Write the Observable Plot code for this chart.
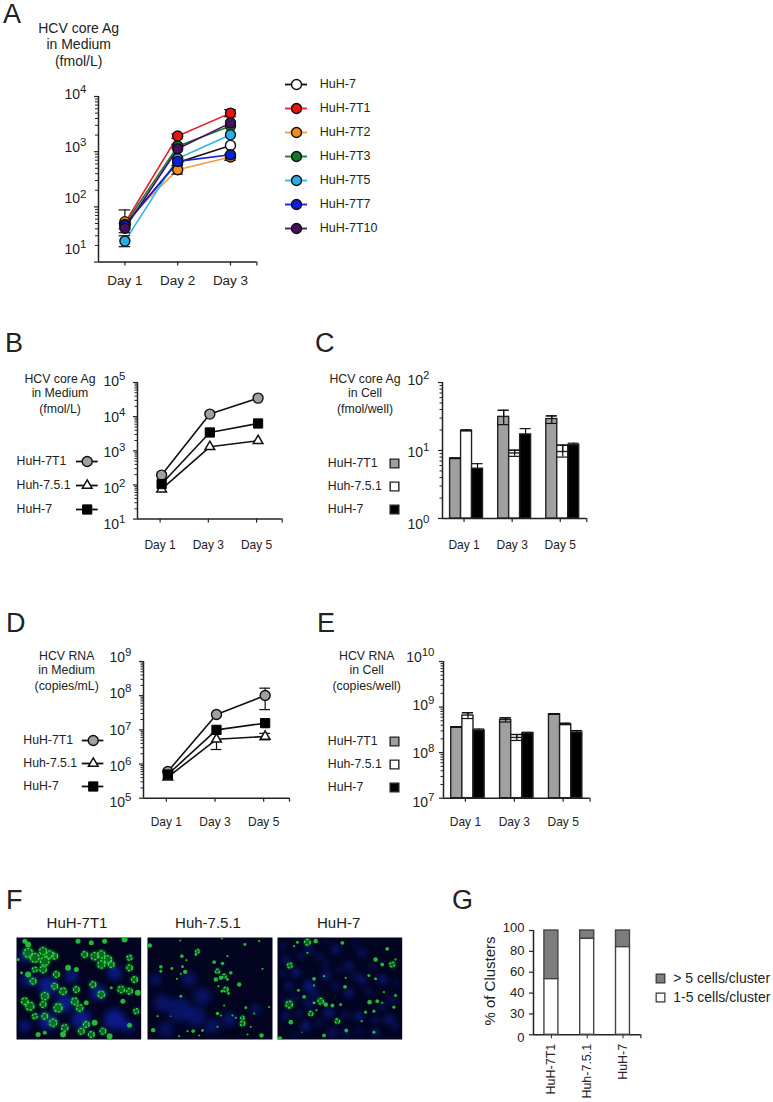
<!DOCTYPE html>
<html>
<head>
<meta charset="utf-8">
<script src="https://cdn.jsdelivr.net/npm/d3@7"></script>
<script src="https://cdn.jsdelivr.net/npm/@observablehq/plot@0.6"></script>
<style>
  html, body { margin: 0; padding: 0; background: #fff; }
  #page { position: relative; width: 773px; height: 1102px; overflow: hidden; font-family: "Liberation Sans", Arial, sans-serif; color: #222; }
  #page svg { position: absolute; overflow: visible; max-width: none; }
  .t { position: absolute; white-space: nowrap; }
  .c { transform: translateX(-50%); text-align: center; }
</style>
</head>
<body>
<div id="page"></div>
<script>
// ---------- Panel A data ----------
const seriesA = ["HuH-7","HuH-7T1","HuH-7T2","HuH-7T3","HuH-7T5","HuH-7T7","HuH-7T10"];
const fillA = ["#ffffff","#ee1111","#f58a1f","#0f7a24","#27aee6","#0a1fe0","#45105f"];
const lineA = ["#111111","#e81c24","#f59a3a","#1a7a30","#35b4e8","#1020d8","#45105f"];
const daysA = ["Day 1","Day 2","Day 3"];
const valuesA = [
  [48,640,1300],[51,1920,5000],[54,470,800],[48,1260,2910],[24,755,2020],[46,667,880],[41,1130,3330]
];
const errSeriesA = [2,6,4,2,3,1,2,1];
const errDayA    = [0,0,0,1,1,1,2,2];
const errLowA    = [40,34,19,393,1150,1750,700,4300];
const errHighA   = [88,50,30,560,1360,2100,900,5800];
const ticksA = [10,100,1000,10000];
const exponentsA = ["1","2","3","4"];
const labelNudgeA = [-13,-8,-4.5,-2];

// ---------- Panels B, D data ----------
const seriesLine = ["HuH-7T1","Huh-7.5.1","HuH-7"];
const days135 = ["Day 1","Day 3","Day 5"];
const valuesB = [[194,11880,34900],[75.6,1310,1960],[106,3440,6300]];
const ticksB = [10,100,1000,10000,100000];
const exponentsB = ["1","2","3","4","5"];
const labelNudgeB = [5,3.5,2,1,-1];

const valuesD = [[604000,2.8e7,1.01e8],[412000,5.3e6,6.4e6],[494000,1e7,1.57e7]];
const errSeriesD = [0,1,1];
const errDayD    = [2,1,2];
const errLowD    = [3.9e7,2.66e6,5.1e6];
const errHighD   = [1.66e8,7.8e6,7.9e6];
const ticksD = [1e5,1e6,1e7,1e8,1e9];
const exponentsD = ["5","6","7","8","9"];
const labelNudgeD = [4,2,1,-2,-4];

// ---------- Panels C, E data ----------
const valuesC = [[7.6,31.2,29],[19.4,9.05,9.5],[5.4,17.2,12]];
const lowC  = [[7.6,24,25],[19.4,8.2,8],[5.4,17.2,12]];
const highC = [[7.75,39,32.3],[20,10.1,12],[6.4,21,12.8]];
const ticksC = [1,10,100];
const exponentsC = ["0","1","2"];
const labelNudgeC = [5.7,2,-2];

const valuesE = [[3.6e8,5.25e8,6.9e8],[6.5e8,2.1e8,4.1e8],[3.06e8,2.67e8,2.77e8]];
const lowE  = [[3.6e8,4.7e8,6.9e8],[5.6e8,1.85e8,4.1e8],[3.06e8,2.67e8,2.77e8]];
const highE = [[3.7e8,5.8e8,7.1e8],[7.5e8,2.5e8,4.4e8],[3.3e8,2.8e8,3.05e8]];
const ticksE = [1e7,1e8,1e9,1e10];
const exponentsE = ["7","8","9","10"];
const labelNudgeE = [4,0.5,-1.5,-4];

// ---------- Panel G data ----------
const linesG = ["HuH-7T1","Huh-7.5.1","HuH-7"];
const smallClusters = [53.3,92,84];
const totalClusters = [100,100,100];
const legendG = ["> 5 cells/cluster","1-5 cells/cluster"];
const ticksG = [0,20,40,60,80,100];
const tickLabelsG = ["0","30","40","60","80","100"];
const labelNudgeG = [3,0,0,0,-1,-2.5];

// ---------- Panel F, estimated spots: [x, y, radius] in image units ----------
const imageTitles = ["HuH-7T1","Huh-7.5.1","HuH-7"];
const blue1 = [[100,150,30],[150,200,28],[200,250,30],[100,255,28],[40,130,20],[300,250,32],[300,110,22],[30,60,18],[250,170,24],[170,120,20],[340,270,18],[30,270,16]];
const green1 = [[40,50,12],[60,65,12],[85,45,10],[105,55,10],[120,60,8],[90,75,12],[40,25,6],[30,15,5],[210,55,8],[240,60,10],[260,55,10],[280,70,10],[260,85,10],[290,85,8],[345,65,7],[345,95,8],[330,10,6],[270,15,5],[190,15,5],[230,20,5],[60,100,7],[85,100,9],[40,115,6],[125,115,8],[160,95,6],[185,100,5],[55,135,8],[20,110,3],[120,150,8],[145,165,9],[185,160,8],[235,145,8],[260,175,9],[290,155,3],[320,160,9],[345,165,8],[360,130,8],[370,170,6],[365,225,7],[345,267,5],[30,195,9],[45,210,11],[90,180,10],[85,205,8],[130,215,11],[180,195,9],[195,215,9],[215,200,5],[325,195,5],[60,240,7],[90,240,8],[115,260,10],[150,275,9],[70,295,5],[90,290,4],[215,265,8],[240,260,6],[200,285,8],[230,295,8],[265,285,8],[285,300,6],[145,295,6],[10,70,3]];
const blue2 = [[100,220,36],[50,200,26],[150,240,30],[60,280,22],[200,270,22],[30,130,18],[250,250,22],[130,130,22],[170,180,26],[330,220,16]];
const green2 = [[12,28,6],[103,13,3],[228,7,3],[297,25,4],[340,15,3],[155,45,7],[150,55,4],[108,60,5],[122,72,3],[45,92,5],[45,105,4],[78,97,4],[110,92,4],[118,107,6],[105,113,3],[93,128,3],[205,78,5],[230,82,5],[245,60,3],[215,105,8],[235,120,8],[255,110,5],[210,130,6],[225,125,6],[245,130,4],[240,160,9],[228,165,4],[248,172,4],[218,150,3],[350,98,3],[280,145,6],[105,180,4],[235,208,3],[215,232,5],[225,238,3],[260,238,3],[270,245,3],[290,245,7],[290,262,9],[300,215,4],[325,232,3],[315,272,3],[370,213,3],[35,240,3],[22,282,6],[142,285,5],[170,283,4],[100,300,3],[160,298,3],[215,272,3],[125,285,3],[347,298,6],[305,295,3],[75,240,2]];
const blue3 = [[100,150,16],[150,120,12],[220,90,11],[60,110,12],[30,70,10],[100,40,10],[180,40,11],[260,50,10],[320,130,12],[260,130,11],[220,170,12],[100,200,11],[160,230,13],[250,240,12],[90,270,13],[40,150,10],[340,250,12],[350,190,9],[170,290,11],[300,290,10],[30,240,10],[210,290,9],[130,60,8],[150,85,8],[75,60,8],[20,110,8],[120,175,9],[60,185,8],[180,150,8],[240,120,8],[280,165,8],[320,210,8],[30,190,7],[70,230,8],[130,260,8],[210,235,8],[300,250,8],[360,140,7],[360,270,8],[60,295,7],[250,285,7],[190,100,7],[290,90,7],[240,20,7],[150,15,6],[20,30,7]];
const green3 = [[95,18,10],[120,15,6],[65,18,4],[55,30,3],[200,20,5],[95,50,3],[42,88,9],[300,70,6],[320,85,5],[350,85,9],[335,38,5],[360,70,3],[115,128,5],[145,120,3],[115,148,3],[208,152,5],[210,125,3],[280,118,4],[300,128,4],[68,162,4],[85,182,5],[40,205,12],[135,195,10],[150,205,6],[170,208,5],[115,200,4],[195,205,4],[105,232,8],[122,222,3],[282,198,6],[305,195,5],[325,168,3],[360,178,4],[355,213,4],[270,228,4],[295,225,4],[185,255,8],[45,258,6],[258,255,3],[212,283,5],[145,298,5],[12,307,6],[295,288,4],[78,288,2],[320,200,3]];

// ---------- Layout helpers ----------
const page = document.getElementById("page");
const FONT = "Liberation Sans, Arial, sans-serif";
const INK = "#222";
const AXIS = "#222";

function place(svg, left, top) {
  svg.style.left = left + "px";
  svg.style.top = top + "px";
  page.appendChild(svg);
}
function label(text, x, y, size, cls) {
  const d = document.createElement("div");
  d.className = "t " + (cls || "");
  d.textContent = text;
  d.style.cssText += `left:${x}px;top:${y - size * 0.6}px;font-size:${size}px;line-height:${size * 1.2}px;`;
  page.appendChild(d);
}
function block(lines, cx, ys, size) {
  lines.forEach((s, i) => label(s, cx, ys[i], size, "c"));
}
function minorLog(ticks) {
  const out = [];
  ticks.slice(0, -1).forEach(t => { for (let k = 2; k < 10; k++) out.push(t * k); });
  return out;
}
function frameOptions(c, marks) {
  const mL = 50, mR = 10, mT = 10, mB = 60;
  return {
    width: c.len + mL + mR, height: c.h + mT + mB,
    marginLeft: mL, marginRight: mR, marginTop: mT, marginBottom: mB,
    style: { background: "transparent", fontFamily: FONT, color: INK, overflow: "visible" },
    x: { domain: [-0.5, 2.5] },
    y: c.linear ? { domain: [c.ticks[0], c.ticks[c.ticks.length - 1]] }
                : { type: "log", domain: [c.ticks[0], c.ticks[c.ticks.length - 1]] },
    marks
  };
}
function axes(c) {
  const marks = [];
  if (!c.linear) marks.push(Plot.axisY(minorLog(c.ticks), { tickSize: c.minorSize || 2.5, fill: "none", label: null, stroke: AXIS }));
  marks.push(Plot.axisY(c.ticks, { tickSize: 4, fill: "none", label: null, stroke: AXIS, strokeWidth: 1.2 }));
  c.ticks.forEach((t, i) => {
    if (c.linear) {
      marks.push(Plot.text([t], {
        x: () => -0.5, y: d => d, text: () => c.tickLabels[i], textAnchor: "end",
        dx: -c.labelGap, dy: c.nudge[i], fontSize: c.tickFont || 14, fill: INK
      }));
    } else {
      const expWidth = c.exponents[i].length * 6.4;
      marks.push(Plot.text([t], {
        x: () => -0.5, y: d => d, text: () => "10", textAnchor: "end",
        dx: -c.labelGap - expWidth, dy: c.nudge[i], fontSize: 14, fill: INK
      }));
      marks.push(Plot.text([t], {
        x: () => -0.5, y: d => d, text: () => c.exponents[i], textAnchor: "end",
        dx: -c.labelGap, dy: c.nudge[i] - 5, fontSize: 11.5, fill: INK
      }));
    }
  });
  marks.push(Plot.ruleX([-0.5], { stroke: AXIS, strokeWidth: 1.5 }));
  marks.push(Plot.ruleY([c.ticks[0]], { stroke: AXIS, strokeWidth: 1.5 }));
  marks.push(Plot.axisX([2.5], { tickSize: 4, fill: "none", label: null, stroke: AXIS, strokeWidth: 1.2 }));
  return marks;
}
function xDays(c) {
  return Plot.axisX([0, 1, 2], {
    tickSize: 4, tickPadding: c.xPad, label: null, stroke: AXIS, strokeWidth: 1.2, fill: INK,
    fontSize: c.xFont, dx: c.xDx || 0, tickFormat: i => c.days[i]
  });
}
function errMarks(rows, cap) {
  return [
    Plot.ruleX(rows, { x: "x", y1: "lo", y2: "hi", stroke: "#111", strokeWidth: 1.2 }),
    Plot.ruleY(rows, { y: "lo", x1: d => d.x - cap, x2: d => d.x + cap, stroke: "#111", strokeWidth: 1.2 }),
    Plot.ruleY(rows, { y: "hi", x1: d => d.x - cap, x2: d => d.x + cap, stroke: "#111", strokeWidth: 1.2 })
  ];
}

// ---------- Line panels ----------
function seriesRows(names, values) {
  return names.flatMap((s, si) => values[si].map((v, i) => ({ s: si, x: i, v })));
}
function drawLinePanel(c) {
  const rows = seriesRows(c.names, c.values);
  const errs = (c.errSeries || []).map((s, i) => ({ x: c.errDay[i], lo: c.errLow[i], hi: c.errHigh[i] }));
  const marks = [
    ...axes(c),
    xDays(c),
    ...c.names.map((n, si) => Plot.line(rows.filter(d => d.s === si), {
      x: "x", y: "v", stroke: c.lineColor(si), strokeWidth: c.lineWidth || 1.6
    })),
    ...errMarks(errs, 0.11),
    ...c.names.map((n, si) => Plot.dot(rows.filter(d => d.s === si), {
      x: "x", y: "v", ...c.dot(si)
    }))
  ];
  place(Plot.plot(frameOptions(c, marks)), c.left - 50, c.top - 10);
}

// ---------- Bar panels ----------
const barFill = ["#a0a0a0", "#ffffff", "#000000"];
const barHalf = 0.114;
function drawBarPanel(c) {
  const rows = seriesRows(seriesLine, c.values).map(d => ({
    ...d,
    cx: d.x + (d.s - 1) * barHalf * 2,
    lo: c.low[d.s][d.x], hi: c.high[d.s][d.x]
  }));
  const errs = rows.map(d => ({ x: d.cx, lo: d.lo, hi: d.hi }));
  const marks = [
    ...axes(c),
    xDays(c),
    ...errMarks(errs, barHalf),
    ...[0, 1, 2].map(si => Plot.rect(rows.filter(d => d.s === si), {
      x1: d => d.cx - barHalf, x2: d => d.cx + barHalf,
      y1: () => c.ticks[0], y2: "v",
      fill: barFill[si], stroke: "#222", strokeWidth: 1.4
    })),
    ...errMarks(errs.filter((d, i) => rows[i].s !== 2), barHalf)
  ];
  place(Plot.plot(frameOptions(c, marks)), c.left - 50, c.top - 10);
}

// ---------- Legends ----------
function drawLegend(o) {
  const height = o.y2 - o.y1 + 30, width = 773;
  const opts = {
    width, height, margin: 0, axis: null,
    style: { background: "transparent", fontFamily: FONT, color: INK, overflow: "visible" },
    x: { domain: [0, width], range: [0, width] },
    y: { type: "point", domain: o.names, range: [15, height - 15], padding: 0 },
    marks: [
      ...(o.lineFrom !== undefined ? o.names.map((n, i) => Plot.ruleY([n], {
        y: d => d, x1: () => o.lineFrom, x2: () => o.lineTo,
        stroke: o.lineColor ? o.lineColor(i) : "#111", strokeWidth: o.lineWidth || 1.8
      })) : []),
      ...o.names.map((n, i) => Plot.dot([n], { y: d => d, x: () => o.markX, ...o.dot(i) })),
      Plot.text(o.names, { y: d => d, x: () => o.textX, text: d => d, textAnchor: "start", fontSize: o.font, fill: INK })
    ]
  };
  place(Plot.plot(opts), 0, o.y1 - 15);
}

// ---------- A ----------
label("A", 3, 14.5, 27);
block(["HCV core Ag", "in Medium", "(fmol/L)"], 78.7, [28, 44, 61], 14);
drawLinePanel({
  left: 98.3, top: 95.7, len: 158.4, h: 165.6, ticks: ticksA, exponents: exponentsA, nudge: labelNudgeA,
  labelGap: 12, days: daysA, xPad: 9.3, xFont: 13.5, names: seriesA, values: valuesA,
  errSeries: errSeriesA, errDay: errDayA, errLow: errLowA, errHigh: errHighA,
  lineColor: si => lineA[si], minorSize: 3,
  dot: si => ({ r: 5, fill: fillA[si], stroke: "#111", strokeWidth: 1.4 })
});
drawLegend({
  names: seriesA, y1: 83.3, y2: 230, lineFrom: 285, lineTo: 307, markX: 296, textX: 319.3, font: 12.5,
  lineColor: i => lineA[i], dot: i => ({ r: 5, fill: fillA[i], stroke: "#111", strokeWidth: 1.4 })
});

// ---------- shared styles for B/D ----------
const lineDot = [
  { symbol: "circle", r: 5, fill: "#a0a0a0", stroke: "#111", strokeWidth: 1.4 },
  { symbol: "triangle", r: 3.6, fill: "#fff", stroke: "#111", strokeWidth: 1.5 },
  { symbol: "square", r: 5.2, fill: "#000", stroke: "#000", strokeWidth: 1 }
];
const legendSquare = i => ({ symbol: "square", r: 4.9, fill: barFill[i], stroke: "#222", strokeWidth: 1.4 });

// ---------- B ----------
label("B", 5, 343, 27);
block(["HCV core Ag", "in Medium", "(fmol/L)"], 60, [379, 393.5, 409], 12.3);
drawLinePanel({
  left: 137, top: 381.7, len: 144.7, h: 136.6, ticks: ticksB, exponents: exponentsB, nudge: labelNudgeB,
  labelGap: 12, days: days135, xPad: 17.5, xFont: 12, xDx: -1.5, names: seriesLine, values: valuesB,
  lineColor: () => "#111", dot: si => lineDot[si]
});
drawLegend({ names: seriesLine, y1: 461, y2: 509, lineFrom: 76, lineTo: 97.7, markX: 86.7, textX: 16, font: 12.3, dot: i => lineDot[i] });

// ---------- C ----------
label("C", 315, 343, 27);
block(["HCV core Ag", "in Cell", "(fmol/well)"], 365, [379, 393.5, 409], 12.3);
drawBarPanel({
  left: 441.7, top: 382.3, len: 144.3, h: 136, ticks: ticksC, exponents: exponentsC, nudge: labelNudgeC,
  labelGap: 13, days: days135, xPad: 17.5, xFont: 12, xDx: -2.5, values: valuesC, low: lowC, high: highC
});
drawLegend({ names: seriesLine, y1: 462.7, y2: 509.3, markX: 394, textX: 327.3, font: 12.3, dot: legendSquare });

// ---------- D ----------
label("D", 6, 623, 27);
block(["HCV RNA", "in Medium", "(copies/mL)"], 66.7, [656.7, 670.7, 686.7], 12.3);
drawLinePanel({
  left: 143.3, top: 661, len: 146, h: 136.7, ticks: ticksD, exponents: exponentsD, nudge: labelNudgeD,
  labelGap: 12, days: days135, xPad: 14.8, xFont: 12, xDx: -1.5, names: seriesLine, values: valuesD,
  errSeries: errSeriesD, errDay: errDayD, errLow: errLowD, errHigh: errHighD,
  lineColor: () => "#111", dot: si => lineDot[si]
});
drawLegend({ names: seriesLine, y1: 739, y2: 786.7, lineFrom: 81.7, lineTo: 103.3, markX: 92.7, textX: 22.7, font: 12.3, dot: i => lineDot[i] });

// ---------- E ----------
label("E", 317, 623, 27);
block(["HCV RNA", "in Cell", "(copies/well)"], 366.7, [656.7, 670.7, 686.7], 12.3);
drawBarPanel({
  left: 442.7, top: 661, len: 146.6, h: 136.7, ticks: ticksE, exponents: exponentsE, nudge: labelNudgeE,
  labelGap: 9, days: days135, xPad: 14.8, xFont: 12, xDx: -2.5, values: valuesE, low: lowE, high: highE
});
drawLegend({ names: seriesLine, y1: 740, y2: 787.3, markX: 394, textX: 327.3, font: 12.3, dot: legendSquare });

// ---------- F ----------
label("F", 6, 900, 27);
function drawImage(left, width, blue, green, blueOpacity, grow) {
  const spots = (data, factor, fill, opacity, blur) => Plot.dot(data, {
    x: d => d[0], y: d => d[1], r: d => d[2] * factor, fill, fillOpacity: opacity, clip: true, imageFilter: `blur(${blur}px)`
  });
  const large = green.filter(d => d[2] >= 7);
  const small = green.filter(d => d[2] < 7);
  place(Plot.plot({
    width, height: 102, margin: 0, axis: null,
    style: { background: "transparent" },
    x: { domain: [5, 380] }, y: { domain: [310, 4] },
    r: { type: "linear", domain: [0, 3], range: [0, 1] },
    marks: [
      Plot.frame({ fill: "#020420", stroke: null }),
      spots(blue, 1, "#1022a8", blueOpacity, 3),
      spots(large, grow, "#0d8a24", 0.75, 1),
      Plot.dot(large, {
        x: d => d[0], y: d => d[1], r: d => d[2] * grow * 0.72, fill: "none",
        stroke: "#3fe04a", strokeWidth: 1.2, strokeDasharray: "2.4 1.4", clip: true, imageFilter: "blur(0.5px)"
      }),
      spots(small, grow, "#22c438", 0.95, 0.6)
    ]
  }), left, 937.3);
}
drawImage(15.7, 124.7, blue1, green1, 0.75, 1.5);
drawImage(146.7, 125, blue2, green2, 0.5, 1.1);
drawImage(277, 124.7, blue3, green3, 0.85, 1.15);
label(imageTitles[0], 77, 922.7, 15, "c");
label(imageTitles[1], 208, 922.7, 15, "c");
label(imageTitles[2], 338.7, 922.7, 15, "c");

// ---------- G ----------
label("G", 452, 900, 27);
(function () {
  const c = { left: 533.3, top: 930, len: 107.4, h: 104.3, ticks: ticksG, tickLabels: tickLabelsG, nudge: labelNudgeG, labelGap: 9, linear: true, tickFont: 13 };
  const half = 0.195;
  const rows = linesG.map((name, i) => ({ i, small: smallClusters[i], total: totalClusters[i] }));
  const marks = [
    ...axes(c),
    Plot.axisX([0, 1, 2], { tickSize: 4, tickPadding: 5, tickRotate: -90, label: null, stroke: AXIS, fill: INK, fontSize: 12.5, tickFormat: i => linesG[i] }),
    Plot.rect(rows, { x1: d => d.i - half, x2: d => d.i + half, y1: "small", y2: "total", fill: "#7d7d7d", stroke: "#444", strokeWidth: 1.4 }),
    Plot.rect(rows, { x1: d => d.i - half, x2: d => d.i + half, y1: () => 0, y2: "small", fill: "#fff", stroke: "#444", strokeWidth: 1.4 })
  ];
  place(Plot.plot(frameOptions(c, marks)), c.left - 50, c.top - 10);

  const yTitle = document.createElement("div");
  yTitle.className = "t";
  yTitle.textContent = "% of Clusters";
  yTitle.style.cssText += "left:490px;top:981px;font-size:15px;line-height:18px;transform:translate(-50%,-50%) rotate(-90deg);";
  page.appendChild(yTitle);

  const legendFill = ["#7d7d7d", "#fff"];
  drawLegend({
    names: legendG, y1: 978.3, y2: 997.3, markX: 660, textX: 672.7, font: 14,
    dot: i => ({ symbol: "square", r: 4.9, fill: legendFill[i], stroke: "#333", strokeWidth: 1.2 })
  });
})();
</script>
</body>
</html>
